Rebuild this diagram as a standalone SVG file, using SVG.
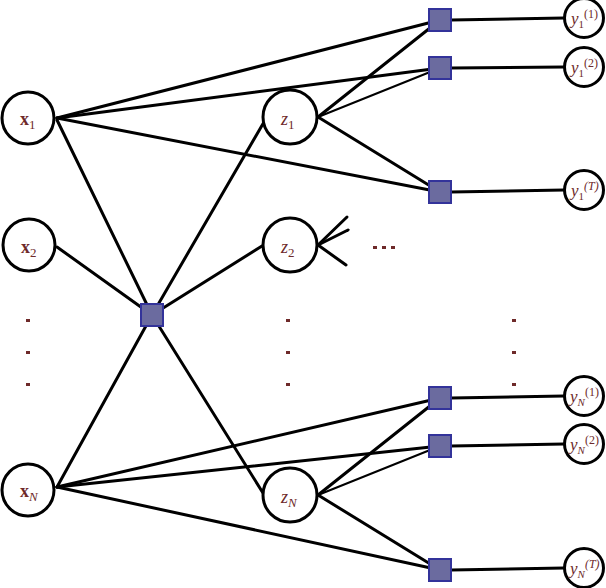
<svg xmlns="http://www.w3.org/2000/svg" width="606" height="588" viewBox="0 0 606 588">
<style>
.e{stroke:#000;stroke-width:3;fill:none;stroke-linecap:round}
.t{stroke-width:2}
.n{fill:#fff;stroke:#000;stroke-width:3}
.f{fill:#6b6b9f;stroke:#33339a;stroke-width:2}
.l{font-family:"Liberation Serif",serif;font-size:18px;fill:#6e2a2a}
.ly{font-family:"Liberation Serif",serif;font-size:17px;fill:#6e2a2a}
.b{font-weight:bold}
.i{font-style:italic}
.d{fill:#6e2a2a}
</style>
<rect width="606" height="588" fill="#fff"/>
<g id="connectors">
<line class="e" x1="57" y1="118" x2="440" y2="20"/>
<line class="e" x1="57" y1="118" x2="440" y2="68"/>
<line class="e" x1="57" y1="118" x2="440" y2="192"/>
<line class="e" x1="57" y1="120" x2="152" y2="315"/>
<line class="e" x1="57" y1="247" x2="152" y2="315"/>
<line class="e" x1="57" y1="487" x2="152" y2="315"/>
<line class="e" x1="57" y1="487" x2="440" y2="398"/>
<line class="e" x1="57" y1="487" x2="440" y2="446"/>
<line class="e" x1="57" y1="487" x2="440" y2="570"/>
<line class="e" x1="152" y1="315" x2="264" y2="122"/>
<line class="e" x1="152" y1="315" x2="262" y2="246"/>
<line class="e" x1="152" y1="315" x2="263" y2="493"/>
<line class="e" x1="318" y1="117" x2="440" y2="20"/>
<line class="e t" x1="318" y1="117" x2="440" y2="68"/>
<line class="e" x1="318" y1="117" x2="440" y2="192"/>
<line class="e" x1="318" y1="245" x2="347" y2="217"/>
<line class="e" x1="318" y1="245" x2="348" y2="230"/>
<line class="e" x1="318" y1="245" x2="346" y2="265"/>
<line class="e" x1="318" y1="495" x2="440" y2="398"/>
<line class="e t" x1="318" y1="495" x2="440" y2="446"/>
<line class="e" x1="318" y1="495" x2="440" y2="570"/>
<line class="e" x1="451" y1="20" x2="564" y2="18"/>
<line class="e" x1="451" y1="68" x2="564" y2="67"/>
<line class="e" x1="451" y1="192" x2="564" y2="190"/>
<line class="e" x1="451" y1="398" x2="564" y2="396"/>
<line class="e" x1="451" y1="446" x2="564" y2="444"/>
<line class="e" x1="451" y1="570" x2="564" y2="568"/>
</g>
<g id="x1"><circle class="n" cx="28" cy="118" r="26"/><text class="l" x="20" y="125"><tspan class="b">x</tspan><tspan font-size="13" dy="4">1</tspan></text></g>
<g id="x2"><circle class="n" cx="29" cy="245" r="26"/><text class="l" x="21" y="253"><tspan class="b">x</tspan><tspan font-size="13" dy="4">2</tspan></text></g>
<g id="xN"><circle class="n" cx="28" cy="490" r="26"/><text class="l" x="20" y="497"><tspan class="b">x</tspan><tspan class="i" font-size="13" dy="4">N</tspan></text></g>
<g id="z1"><circle class="n" cx="290" cy="117" r="27"/><text class="l" x="281" y="125"><tspan class="i">z</tspan><tspan font-size="13" dy="4">1</tspan></text></g>
<g id="z2"><circle class="n" cx="290" cy="245" r="27"/><text class="l" x="281" y="253"><tspan class="i">z</tspan><tspan font-size="13" dy="4">2</tspan></text></g>
<g id="zN"><circle class="n" cx="290" cy="495" r="27"/><text class="l" x="281" y="503"><tspan class="i">z</tspan><tspan class="i" font-size="13" dy="4">N</tspan></text></g>
<g id="f0"><rect class="f" x="141" y="304" width="22" height="22"/></g>
<g id="f1"><rect class="f" x="429" y="9" width="22" height="22"/></g>
<g id="f2"><rect class="f" x="429" y="57" width="22" height="22"/></g>
<g id="f3"><rect class="f" x="429" y="181" width="22" height="22"/></g>
<g id="f4"><rect class="f" x="429" y="387" width="22" height="22"/></g>
<g id="f5"><rect class="f" x="429" y="435" width="22" height="22"/></g>
<g id="f6"><rect class="f" x="429" y="559" width="22" height="22"/></g>
<g id="y11"><circle class="n" cx="584" cy="18" r="19.5"/><text class="ly" x="571" y="24"><tspan class="i">y</tspan><tspan font-size="11" dy="4">1</tspan><tspan font-size="12" dy="-10">(1)</tspan></text></g>
<g id="y12"><circle class="n" cx="584" cy="67" r="19.5"/><text class="ly" x="571" y="73"><tspan class="i">y</tspan><tspan font-size="11" dy="4">1</tspan><tspan font-size="12" dy="-10">(2)</tspan></text></g>
<g id="y1T"><circle class="n" cx="584" cy="190" r="19.5"/><text class="ly" x="571" y="196"><tspan class="i">y</tspan><tspan font-size="11" dy="4">1</tspan><tspan class="i" font-size="12" dy="-10">(T)</tspan></text></g>
<g id="yN1"><circle class="n" cx="584" cy="396" r="19.5"/><text class="ly" x="570" y="402"><tspan class="i">y</tspan><tspan class="i" font-size="11" dy="4">N</tspan><tspan font-size="12" dy="-10">(1)</tspan></text></g>
<g id="yN2"><circle class="n" cx="584" cy="444" r="19.5"/><text class="ly" x="570" y="450"><tspan class="i">y</tspan><tspan class="i" font-size="11" dy="4">N</tspan><tspan font-size="12" dy="-10">(2)</tspan></text></g>
<g id="yNT"><circle class="n" cx="584" cy="568" r="19.5"/><text class="ly" x="570" y="574"><tspan class="i">y</tspan><tspan class="i" font-size="11" dy="4">N</tspan><tspan class="i" font-size="12" dy="-10">(T)</tspan></text></g>
<g id="dots">
<rect class="d" x="373" y="246" width="4" height="3"/><rect class="d" x="382" y="246" width="4" height="3"/><rect class="d" x="391" y="246" width="4" height="3"/>
<rect class="d" x="26" y="319" width="4" height="3"/><rect class="d" x="26" y="351" width="4" height="3"/><rect class="d" x="26" y="383" width="4" height="3"/>
<rect class="d" x="286" y="319" width="4" height="3"/><rect class="d" x="286" y="351" width="4" height="3"/><rect class="d" x="286" y="383" width="4" height="3"/>
<rect class="d" x="512" y="319" width="4" height="3"/><rect class="d" x="512" y="351" width="4" height="3"/><rect class="d" x="512" y="383" width="4" height="3"/>
</g>
</svg>
